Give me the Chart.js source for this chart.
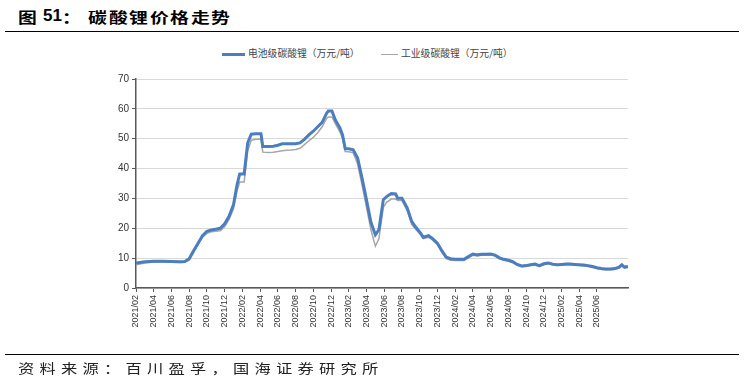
<!DOCTYPE html>
<html>
<head>
<meta charset="utf-8">
<script src="https://cdn.jsdelivr.net/npm/chart.js@4"></script>
<style>
  html, body { margin: 0; padding: 0; background: #fff; }
  #wrap { position: relative; width: 744px; height: 385px; overflow: hidden; }
  #c { position: absolute; left: 0; top: 0; }
  .t { position: absolute; top: 6px; line-height: 1; font: bold 14.5px "Noto Sans CJK SC", sans-serif; color: #000; white-space: nowrap; transform: scaleX(1.3); transform-origin: left top; }
  .t.num { top: 5.5px; font: bold 17px "Liberation Sans", sans-serif; transform: none; }
  .rule { position: absolute; left: 5px; width: 734px; height: 0; border-top: 1.5px solid #000; }
  .src { position: absolute; left: 18px; top: 358px; font: 13px "Noto Sans CJK SC", sans-serif; letter-spacing: 4.2px; transform: scaleX(1.25); transform-origin: left top; color: #222; white-space: nowrap; }
  .leg { position: absolute; top: 46px; font: 9.8px "Noto Sans CJK SC", sans-serif; color: #444; white-space: nowrap; }
  .leg span.ln { display: inline-block; vertical-align: middle; margin-right: 3px; }
</style>
</head>
<body>
<div id="wrap">
  <span class="t" style="left:18px">图</span>
  <span class="t num" style="left:43px">51</span>
  <span class="t" style="left:62px">：</span>
  <span class="t" style="left:88px">碳</span>
  <span class="t" style="left:108.5px">酸</span>
  <span class="t" style="left:129px">锂</span>
  <span class="t" style="left:149.5px">价</span>
  <span class="t" style="left:170px">格</span>
  <span class="t" style="left:190.5px">走</span>
  <span class="t" style="left:211px">势</span>
  <div class="rule" style="top:31px"></div>
  <div class="leg" style="left:222px"><span class="ln" style="width:23px;border-top:3px solid #4a7ebf"></span>电池级碳酸锂（万元/吨）</div>
  <div class="leg" style="left:381px"><span class="ln" style="width:17px;border-top:1.5px solid #a6a6a6"></span>工业级碳酸锂（万元/吨）</div>
  <canvas id="c" width="744" height="385"></canvas>
  <div class="rule" style="top:354px"></div>
  <div class="src">资料来源：百川盈孚，国海证券研究所</div>
</div>
<script>
// Dates of sampled observations
const dates = [
  "2021-02-01","2021-03-01","2021-04-01","2021-05-01","2021-06-01","2021-07-01","2021-07-16","2021-08-01","2021-08-16","2021-09-01",
  "2021-09-16","2021-10-01","2021-10-16","2021-11-01","2021-11-16","2021-12-01","2021-12-16","2022-01-01","2022-01-13","2022-01-22",
  "2022-02-07","2022-02-19","2022-03-01","2022-03-16","2022-04-04","2022-04-10","2022-05-01","2022-05-16","2022-06-01","2022-06-16",
  "2022-07-01","2022-07-16","2022-08-01","2022-08-16","2022-09-01","2022-09-16","2022-10-01","2022-10-16","2022-11-01","2022-11-16",
  "2022-11-22","2022-12-04","2022-12-16","2023-01-01","2023-01-10","2023-01-19","2023-02-01","2023-02-16","2023-03-01","2023-03-16",
  "2023-04-01","2023-04-16","2023-05-01","2023-05-13","2023-05-28","2023-06-10","2023-06-25","2023-07-10","2023-07-16","2023-08-01",
  "2023-08-19","2023-09-04","2023-09-16","2023-10-04","2023-10-13","2023-11-01","2023-11-13","2023-12-01","2023-12-16","2024-01-01",
  "2024-01-16","2024-02-01","2024-02-16","2024-03-01","2024-03-16","2024-04-01","2024-04-16","2024-05-01","2024-05-16","2024-06-01",
  "2024-06-16","2024-07-01","2024-07-16","2024-08-01","2024-08-16","2024-09-01","2024-09-16","2024-10-01","2024-10-16","2024-11-01",
  "2024-11-16","2024-12-01","2024-12-16","2025-01-01","2025-01-16","2025-02-01","2025-02-16","2025-03-01","2025-03-16","2025-04-01",
  "2025-04-16","2025-05-01","2025-05-16","2025-06-01","2025-06-16","2025-07-01","2025-07-16","2025-08-01","2025-08-16","2025-08-25",
  "2025-09-04","2025-09-16"
];
// 电池级碳酸锂（万元/吨）
const batteryGrade = [
  8.4,8.8,9.0,9.0,8.9,8.8,8.9,9.8,12.5,15.0,
  17.5,19.0,19.4,19.7,20.0,21.5,24.0,28.0,34.6,38.2,
  38.2,48.6,51.5,51.7,51.7,47.4,47.4,47.5,47.8,48.3,
  48.3,48.3,48.3,48.6,49.8,51.3,52.5,54.0,55.5,58.5,
  59.3,59.3,56.2,53.6,51.3,46.6,46.6,46.3,43.5,36.8,
  29.5,22.0,17.8,19.5,29.6,30.7,31.6,31.5,30.1,30.1,
  26.8,22.3,20.6,18.4,17.0,17.5,16.7,15.0,12.5,10.3,
  9.8,9.6,9.6,9.6,10.5,11.4,11.1,11.3,11.3,11.4,
  11.0,10.1,9.6,9.3,8.8,7.9,7.4,7.5,7.8,8.0,
  7.5,8.1,8.4,8.0,7.8,7.9,8.0,8.0,7.9,7.8,
  7.7,7.5,7.2,6.8,6.5,6.4,6.4,6.5,7.0,7.8,
  7.0,7.2
];
// 工业级碳酸锂（万元/吨）
const industrialGrade = [
  7.8,8.4,8.7,8.7,8.6,8.5,8.6,9.3,12.0,14.5,
  17.0,18.3,18.8,19.0,19.2,20.5,23.0,26.5,32.5,35.5,
  35.5,46.0,49.5,49.8,49.8,45.5,45.4,45.5,45.7,46.0,
  46.1,46.2,46.4,46.8,48.0,49.3,50.5,52.0,54.0,56.8,
  57.3,57.3,55.0,52.3,50.0,45.7,45.6,45.3,41.5,34.5,
  27.0,19.5,14.0,16.5,27.0,28.8,29.8,29.8,29.3,29.3,
  25.8,21.3,19.8,17.8,16.5,17.0,16.2,14.5,12.0,9.8,
  9.3,9.2,9.2,9.2,10.1,11.0,10.8,11.0,11.0,11.1,
  10.7,9.8,9.3,9.0,8.5,7.6,7.1,7.2,7.5,7.7,
  7.2,7.8,8.1,7.7,7.5,7.6,7.7,7.7,7.6,7.5,
  7.4,7.2,6.9,6.5,6.2,6.1,6.1,6.2,6.7,7.4,
  6.7,6.9
];
const tickLabels = [
  "2021/02","2021/04","2021/06","2021/08","2021/10","2021/12","2022/02","2022/04","2022/06","2022/08",
  "2022/10","2022/12","2023/02","2023/04","2023/06","2023/08","2023/10","2023/12","2024/02","2024/04",
  "2024/06","2024/08","2024/10","2024/12","2025/02","2025/04","2025/06"
];
const seriesNames = ["电池级碳酸锂（万元/吨）", "工业级碳酸锂（万元/吨）"];

// month offset from 2021-02-01
function monthIndex(s) {
  const [y, m, d] = s.split("-").map(Number);
  return (y - 2021) * 12 + (m - 2) + (d - 1) / 30;
}
const xs = dates.map(monthIndex);
const toPts = arr => arr.map((v, i) => ({ x: xs[i], y: v }));

const axisColor = "#595959";
new Chart(document.getElementById("c"), {
  type: "line",
  data: {
    datasets: [
      { label: seriesNames[0], data: toPts(batteryGrade), borderColor: "#4a7ebf", borderWidth: 3, pointRadius: 0, tension: 0, fill: false },
      { label: seriesNames[1], data: toPts(industrialGrade), borderColor: "#a6a6a6", borderWidth: 1.5, pointRadius: 0, tension: 0, fill: false }
    ]
  },
  options: {
    responsive: false,
    devicePixelRatio: 1,
    animation: false,
    layout: { padding: { left: 0, right: 116, top: 79, bottom: 37 } },
    plugins: { legend: { display: false }, title: { display: false }, tooltip: { enabled: false } },
    scales: {
      x: {
        type: "linear",
        min: 0,
        max: 55.5,
        afterBuildTicks: s => { s.ticks = tickLabels.map((_, i) => ({ value: i * 2 })); },
        afterFit: s => { s.height = 60; },
        ticks: {
          autoSkip: false,
          minRotation: 90,
          maxRotation: 90,
          padding: 3,
          color: "#333",
          font: { family: "Liberation Sans", size: 9 },
          callback: v => tickLabels[Math.round(v / 2)]
        },
        grid: { drawOnChartArea: false, drawTicks: true, tickLength: 4, color: axisColor, tickColor: axisColor },
        border: { display: true, color: axisColor, width: 1.5 }
      },
      y: {
        min: 0,
        max: 70,
        afterFit: s => { s.width = 136; },
        ticks: { stepSize: 10, padding: 3, color: "#333", font: { family: "Liberation Sans", size: 10 } },
        grid: { color: "#d9d9d9", lineWidth: 1, drawTicks: true, tickLength: 4, tickColor: axisColor },
        border: { display: true, color: axisColor, width: 1.5 }
      }
    }
  }
});
</script>
</body>
</html>
